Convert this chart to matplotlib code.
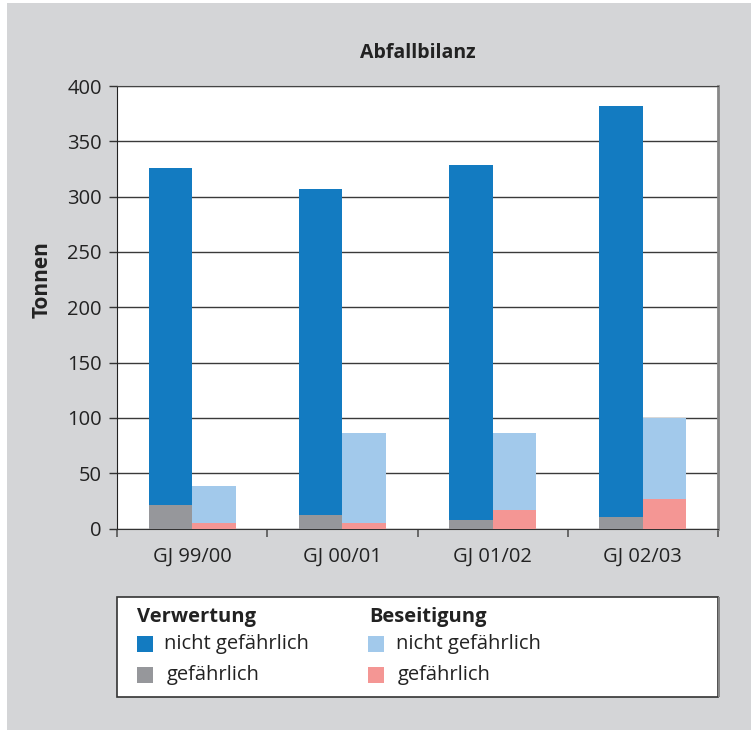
import matplotlib.pyplot as plt
from matplotlib.patches import Rectangle
import numpy as np

plt.rcParams['font.family'] = ['Open Sans', 'DejaVu Sans']

# Waste balance in tonnes per fiscal year
years = ["GJ 99/00", "GJ 00/01", "GJ 01/02", "GJ 02/03"]
verwertung_gefaehrlich = [21, 12, 8, 10]
verwertung_nicht = [305, 295, 321, 372]
beseitigung_gefaehrlich = [5, 5, 17, 27]
beseitigung_nicht = [33, 81, 69, 73]
yticks = [0, 50, 100, 150, 200, 250, 300, 350, 400]

C_DARK = "#137bc1"
C_LIGHT = "#a2c9eb"
C_GREY = "#96979b"
C_PINK = "#f49694"
BG = "#d4d5d7"
TXT = "#222222"
FS = 14.5

W, H = 751, 731
fig = plt.figure(figsize=(W / 100, H / 100), dpi=100)
fig.patch.set_facecolor("white")

# grey panel behind everything
fig.patches.append(Rectangle((7 / W, 1 - 730 / H), (W - 7) / W, (730 - 3) / H,
                             transform=fig.transFigure, facecolor=BG,
                             edgecolor="none", zorder=-10))


def px(x0, y0, x1, y1):
    return [x0 / W, 1 - y1 / H, (x1 - x0) / W, (y1 - y0) / H]


ax = fig.add_axes(px(117, 86, 718, 528.5))
ax.set_facecolor("white")

x = np.arange(len(years))
bw = 0.29
ax.bar(x - bw / 2, verwertung_gefaehrlich, bw, color=C_GREY, zorder=3)
ax.bar(x - bw / 2, verwertung_nicht, bw, bottom=verwertung_gefaehrlich,
       color=C_DARK, zorder=3)
ax.bar(x + bw / 2, beseitigung_gefaehrlich, bw, color=C_PINK, zorder=3)
ax.bar(x + bw / 2, beseitigung_nicht, bw, bottom=beseitigung_gefaehrlich,
       color=C_LIGHT, zorder=3)

ax.set_xlim(-0.5, len(years) - 0.5)
ax.set_ylim(0, 400)
ax.set_yticks(yticks)
ax.set_yticklabels([str(v) for v in yticks], fontsize=FS, color=TXT)
ax.yaxis.grid(True, color="#3a3a3a", linewidth=1.0, zorder=0)
ax.set_axisbelow(True)

ax.set_xticks(x)
ax.set_xticklabels(years, fontsize=FS, color=TXT)
ax.set_xticks(np.arange(-0.5, len(years)), minor=True)
ax.tick_params(axis="x", which="major", length=0, pad=13)
ax.tick_params(axis="x", which="minor", length=6, width=1.2, color="#555555")
ax.tick_params(axis="y", length=6, width=1, color="#333333", pad=5)

ax.spines["left"].set_color(TXT)
ax.spines["bottom"].set_color("#333333")
ax.spines["top"].set_color("#444444")
ax.spines["right"].set_color("#888888")
ax.spines["right"].set_linewidth(2)

fig.text(42 / W, 1 - 280 / H, "Tonnen", rotation=90, ha="center", va="center",
         fontsize=15, fontweight="bold", color=TXT)
fig.text(417.5 / W, 1 - 53 / H, "Abfallbilanz", ha="center", va="center",
         fontsize=14, fontweight="bold", color=TXT)

# legend box
fig.patches.append(Rectangle((117 / W, 1 - 697 / H), (718 - 117) / W, (697 - 597) / H,
                             transform=fig.transFigure, facecolor="white",
                             edgecolor="#333333", linewidth=1.2, zorder=1))
fig.patches.append(Rectangle((718 / W, 1 - 697 / H), 1.5 / W, (697 - 597) / H,
                             transform=fig.transFigure, facecolor="#888888",
                             edgecolor="none", zorder=2))


def legend_entry(xsq, xtxt, yc, color, label):
    fig.patches.append(Rectangle((xsq / W, 1 - (yc + 8) / H), 16 / W, 16 / H,
                                 transform=fig.transFigure, facecolor=color,
                                 edgecolor="none", zorder=3))
    fig.text(xtxt / W, 1 - yc / H, label, ha="left", va="center",
             fontsize=FS, color=TXT, zorder=4)


fig.text(137 / W, 1 - 617 / H, "Verwertung", ha="left", va="center",
         fontsize=FS, fontweight="bold", color=TXT, zorder=4)
fig.text(369 / W, 1 - 617 / H, "Beseitigung", ha="left", va="center",
         fontsize=FS, fontweight="bold", color=TXT, zorder=4)
legend_entry(137, 164, 644, C_DARK, "nicht gefährlich")
legend_entry(137, 167, 675, C_GREY, "gefährlich")
legend_entry(368, 396, 644, C_LIGHT, "nicht gefährlich")
legend_entry(368, 398, 675, C_PINK, "gefährlich")

fig.savefig("out.png", dpi=100, facecolor=fig.get_facecolor())
